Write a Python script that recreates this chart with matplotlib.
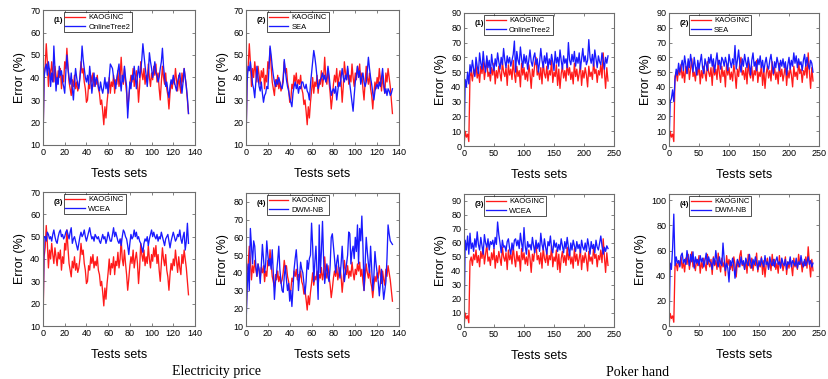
import numpy as np
import matplotlib
matplotlib.use("Agg")
import matplotlib.pyplot as plt

# Electricity price: error per test set (135 test sets)
elec_kaog = [
    10, 41, 45, 55, 47, 36, 44, 40, 47, 42, 38, 45, 41, 37, 43,
    40, 44, 35, 41, 38, 47, 44, 53, 45, 38, 35, 32, 39, 36, 41,
    35, 38, 34, 36, 40, 47, 42, 44, 38, 35, 29, 30, 37, 35, 41,
    38, 42, 36, 39, 37, 41, 35, 33, 28, 30, 25, 19, 27, 22, 29,
    34, 40, 33, 38, 36, 41, 33, 39, 37, 43, 36, 40, 49, 40, 37,
    44, 38, 33, 26, 31, 37, 41, 38, 44, 36, 40, 43, 38, 29, 36,
    47, 42, 39, 44, 37, 41, 38, 46, 40, 36, 42, 39, 45, 41, 46,
    38, 42, 35, 30, 38, 45, 40, 37, 42, 35, 32, 26, 33, 38, 35,
    40, 37, 44, 39, 34, 41, 36, 33, 42, 38, 44, 40, 36, 30, 24,
]
elec_onlinetree2 = [
    10, 40, 44, 46, 41, 47, 43, 36, 42, 38, 54, 44, 34, 40, 37,
    45, 41, 43, 38, 36, 33, 42, 50, 44, 40, 37, 42, 35, 30, 38,
    44, 40, 37, 35, 40, 45, 54, 48, 44, 40, 38, 41, 37, 45, 40,
    33, 38, 42, 36, 40, 39, 36, 34, 38, 35, 33, 36, 40, 35, 38,
    33, 40, 46, 45, 44, 40, 38, 35, 40, 43, 46, 39, 34, 41, 38,
    45, 40, 36, 22, 30, 38, 35, 41, 39, 45, 40, 35, 41, 45, 40,
    43, 48, 55, 50, 45, 41, 36, 42, 51, 47, 44, 40, 43, 47, 42,
    41, 38, 40, 44, 47, 53, 45, 40, 36, 38, 34, 31, 36, 39, 37,
    41, 38, 36, 34, 38, 40, 42, 37, 33, 38, 44, 40, 36, 31, 24,
]
elec_sea = [
    10, 38, 45, 43, 47, 42, 37, 35, 31, 38, 45, 40, 36, 34, 38,
    33, 29, 32, 33, 36, 35, 44, 54, 50, 45, 41, 38, 36, 39, 37,
    40, 38, 36, 35, 38, 48, 43, 39, 36, 34, 31, 29, 27, 33, 36,
    38, 35, 37, 33, 36, 35, 38, 38, 36, 35, 37, 34, 33, 30, 37,
    42, 47, 52, 49, 45, 40, 35, 37, 39, 40, 42, 39, 41, 38, 40,
    45, 41, 36, 32, 34, 35, 33, 36, 30, 34, 38, 36, 40, 44, 40,
    38, 41, 39, 45, 40, 37, 33, 29, 25, 32, 38, 41, 45, 40, 43,
    37, 40, 42, 38, 36, 38, 43, 49, 44, 40, 37, 33, 30, 34, 36,
    37, 35, 38, 36, 40, 44, 38, 33, 35, 32, 35, 34, 32, 33, 35,
]
elec_wcea = [
    10, 50, 50, 48, 52, 51, 49, 50, 48, 51, 53, 50, 48, 47, 50,
    52, 53, 50, 51, 49, 50, 52, 53, 51, 49, 52, 54, 47, 49, 50,
    48, 46, 44, 47, 50, 52, 50, 51, 53, 50, 48, 50, 52, 54, 51,
    49, 50, 48, 51, 50, 49, 50, 48, 47, 49, 51, 49, 50, 47, 49,
    52, 50, 48, 48, 51, 54, 50, 52, 50, 48, 47, 49, 46, 50, 53,
    52, 50, 49, 46, 42, 47, 51, 49, 50, 53, 50, 52, 49, 50, 48,
    47, 45, 43, 47, 49, 48, 50, 46, 49, 51, 53, 50, 52, 50, 49,
    51, 48, 50, 49, 52, 50, 48, 46, 49, 50, 51, 48, 45, 48, 50,
    52, 50, 48, 49, 51, 50, 53, 49, 47, 50, 52, 44, 48, 56, 47,
]
elec_dwmnb = [
    10, 30, 45, 30, 65, 55, 45, 58, 55, 44, 38, 45, 42, 34, 44,
    56, 48, 40, 45, 58, 50, 44, 48, 42, 53, 40, 25, 35, 40, 47,
    55, 42, 35, 30, 29, 38, 44, 36, 30, 34, 24, 30, 21, 32, 42,
    48, 53, 44, 30, 38, 46, 42, 40, 34, 28, 35, 47, 42, 48, 50,
    68, 55, 35, 46, 55, 40, 25, 67, 40, 52, 69, 48, 34, 40, 45,
    38, 35, 44, 60, 62, 55, 48, 40, 46, 50, 42, 37, 45, 55, 44,
    35, 40, 45, 50, 63, 62, 45, 52, 55, 48, 60, 52, 67, 45, 65,
    58, 72, 55, 30, 45, 60, 52, 45, 40, 55, 42, 30, 38, 52, 45,
    40, 35, 27, 34, 42, 33, 25, 30, 35, 48, 67, 62, 58, 57, 56,
]

# Poker hand: error every second test set (0..240)
poker_kaog = [
    0, 10, 6, 8, 3, 47, 50, 44, 52, 48, 55,
    46, 51, 43, 54, 49, 57, 45, 52, 59, 47, 50,
    44, 53, 48, 56, 42, 51, 46, 54, 49, 44, 57,
    50, 47, 53, 41, 55, 48, 52, 45, 58, 49, 43,
    54, 47, 51, 40, 56, 48, 53, 45, 50, 44, 55,
    49, 39, 52, 47, 56, 60, 48, 51, 45, 53, 42,
    57, 49, 46, 54, 44, 51, 48, 58, 43, 50, 47,
    55, 41, 52, 39, 49, 54, 46, 51, 44, 57, 48,
    53, 45, 50, 42, 56, 47, 52, 44, 49, 55, 41,
    51, 46, 53, 48, 40, 54, 47, 50, 45, 57, 49,
    52, 43, 51, 48, 55, 46, 63, 50, 39, 53, 44,
]
poker_onlinetree2 = [
    0, 45, 40, 50, 42, 55, 50, 58, 52, 47, 60,
    54, 49, 63, 56, 52, 64, 55, 50, 61, 53, 58,
    49, 62, 55, 51, 59, 54, 63, 57, 52, 60, 55,
    66, 58, 53, 61, 56, 60, 54, 58, 62, 71, 50,
    64, 58, 55, 67, 59, 53, 62, 56, 61, 52, 58,
    65, 57, 54, 60, 63, 55, 59, 50, 57, 66, 58,
    53, 61, 56, 63, 52, 59, 55, 62, 57, 51, 64,
    56, 60, 54, 65, 58, 52, 61, 56, 59, 53, 70,
    58, 55, 62, 57, 64, 54, 60, 56, 63, 52, 59,
    66, 57, 61, 55, 58, 72, 60, 56, 62, 54, 65,
    59, 53, 61, 57, 55, 63, 58, 52, 60, 56, 61,
]
poker_sea = [
    0, 30, 32, 38, 30, 45, 52, 48, 56, 50, 54,
    58, 51, 61, 55, 49, 59, 53, 62, 56, 50, 60,
    54, 48, 58, 52, 57, 62, 53, 49, 59, 55, 51,
    60, 56, 62, 54, 59, 50, 57, 63, 55, 58, 52,
    60, 58, 54, 60, 56, 51, 62, 57, 53, 59, 55,
    68, 52, 58, 65, 56, 50, 59, 54, 62, 57, 53,
    60, 55, 48, 58, 63, 54, 57, 51, 59, 55, 61,
    53, 58, 50, 56, 60, 54, 52, 58, 62, 55, 49,
    57, 53, 60, 56, 51, 58, 54, 59, 53, 57, 48,
    55, 60, 52, 58, 54, 63, 56, 61, 53, 59, 55,
    57, 51, 58, 62, 54, 60, 55, 52, 58, 56, 50,
]
poker_wcea = [
    0, 62, 55, 65, 52, 67, 56, 60, 54, 63, 57,
    68, 59, 55, 64, 58, 52, 66, 60, 57, 63, 55,
    61, 59, 62, 56, 64, 59, 75, 66, 60, 53, 62,
    57, 58, 54, 61, 63, 56, 52, 60, 55, 62, 63,
    58, 62, 56, 67, 60, 54, 71, 58, 52, 61, 57,
    59, 55, 64, 58, 53, 62, 56, 60, 54, 67, 59,
    55, 63, 57, 52, 61, 58, 65, 56, 53, 62, 57,
    60, 54, 59, 55, 63, 58, 53, 61, 56, 64, 57,
    51, 60, 55, 62, 58, 54, 61, 56, 59, 53, 62,
    57, 55, 60, 54, 63, 58, 52, 61, 56, 59, 53,
    62, 57, 55, 60, 65, 58, 52, 57, 54, 58, 56,
]
poker_dwmnb = [
    0, 50, 45, 62, 89, 48, 55, 50, 52, 47, 56,
    58, 50, 53, 49, 60, 54, 48, 57, 51, 59, 46,
    55, 50, 53, 48, 56, 51, 54, 47, 52, 58, 49,
    55, 51, 50, 45, 54, 49, 60, 52, 47, 55, 50,
    48, 66, 53, 44, 50, 46, 35, 52, 48, 54, 49,
    38, 46, 53, 50, 47, 55, 49, 52, 45, 54, 50,
    48, 57, 51, 46, 53, 49, 55, 50, 45, 52, 48,
    54, 50, 47, 56, 49, 51, 45, 55, 50, 48, 53,
    47, 52, 55, 49, 51, 46, 54, 50, 48, 53, 45,
    51, 49, 55, 47, 52, 50, 48, 54, 46, 51, 49,
    56, 50, 47, 53, 48, 51, 55, 49, 52, 47, 50,
]

W, H = 829, 379
RED = "#ff1a1a"
BLUE = "#1a1aff"
FRAME = "#6e6e6e"

plt.rcParams["font.family"] = ["Liberation Sans", "DejaVu Sans"]

fig = plt.figure(figsize=(W / 100, H / 100), dpi=100)


def px_axes(x0, y0, x1, y1):
    """Axes from pixel box (left, top, right, bottom)."""
    return fig.add_axes([x0 / W, 1 - y1 / H, (x1 - x0) / W, (y1 - y0) / H])


def panel(box, tag, series, other_name, step, xlim, xticks, ylim, yticks):
    ax = px_axes(*box)
    xk = np.arange(len(series[0])) * step
    xo = np.arange(len(series[1])) * step
    ax.plot(xk, series[0], color=RED, lw=0.95, label="KAOGINC")
    ax.plot(xo, series[1], color=BLUE, lw=0.95, label=other_name)
    ax.set_xlim(*xlim)
    ax.set_ylim(*ylim)
    ax.set_xticks(xticks)
    ax.set_yticks(yticks)
    ax.tick_params(direction="in", length=2.5, width=0.6, labelsize=6.5,
                   top=True, right=True, pad=2, color=FRAME)
    for s in ax.spines.values():
        s.set_color(FRAME)
        s.set_linewidth(0.8)
    ax.set_xlabel("Tests sets", fontsize=9, labelpad=8)
    ax.set_ylabel("Error (%)", fontsize=9, labelpad=3)
    ax.text(0.07, 0.95, tag, transform=ax.transAxes, fontsize=5.5,
            fontweight="bold", va="top", ha="left")
    leg = ax.legend(loc="upper left", bbox_to_anchor=(0.135, 0.985),
                    fontsize=5.5, frameon=True, fancybox=False,
                    borderpad=0.25, labelspacing=0.25, handlelength=2.6,
                    handletextpad=0.4, borderaxespad=0)
    leg.get_frame().set_edgecolor("black")
    leg.get_frame().set_linewidth(0.6)
    return ax


elec_x = (0, 140)
elec_xt = np.arange(0, 141, 20)
poker_x = (0, 250)
poker_xt = np.arange(0, 251, 50)

panel((43, 10, 195, 145), "(1)", (elec_kaog, elec_onlinetree2), "OnlineTree2",
      1, elec_x, elec_xt, (10, 70), np.arange(10, 71, 10))
panel((246, 10, 399, 145), "(2)", (elec_kaog, elec_sea), "SEA",
      1, elec_x, elec_xt, (10, 70), np.arange(10, 71, 10))
panel((43, 192, 195, 326), "(3)", (elec_kaog, elec_wcea), "WCEA",
      1, elec_x, elec_xt, (10, 70), np.arange(10, 71, 10))
panel((246, 193, 399, 326), "(4)", (elec_kaog, elec_dwmnb), "DWM-NB",
      1, elec_x, elec_xt, (10, 85), np.arange(10, 81, 10))

panel((464, 13, 614, 146), "(1)", (poker_kaog, poker_onlinetree2), "OnlineTree2",
      2, poker_x, poker_xt, (0, 90), np.arange(0, 91, 10))
panel((669, 13, 819, 146), "(2)", (poker_kaog, poker_sea), "SEA",
      2, poker_x, poker_xt, (0, 90), np.arange(0, 91, 10))
panel((464, 194, 614, 327), "(3)", (poker_kaog, poker_wcea), "WCEA",
      2, poker_x, poker_xt, (0, 95), np.arange(0, 91, 10))
panel((669, 194, 819, 326), "(4)", (poker_kaog, poker_dwmnb), "DWM-NB",
      2, poker_x, poker_xt, (0, 105), np.arange(0, 101, 20))

fig.text(217 / W, 1 - 372 / H, "Electricity price", ha="center", va="center",
         fontsize=10, family="Liberation Serif")
fig.text(638 / W, 1 - 372 / H, "Poker hand", ha="center", va="center",
         fontsize=10, family="Liberation Serif")

fig.savefig("out.png", dpi=100)
